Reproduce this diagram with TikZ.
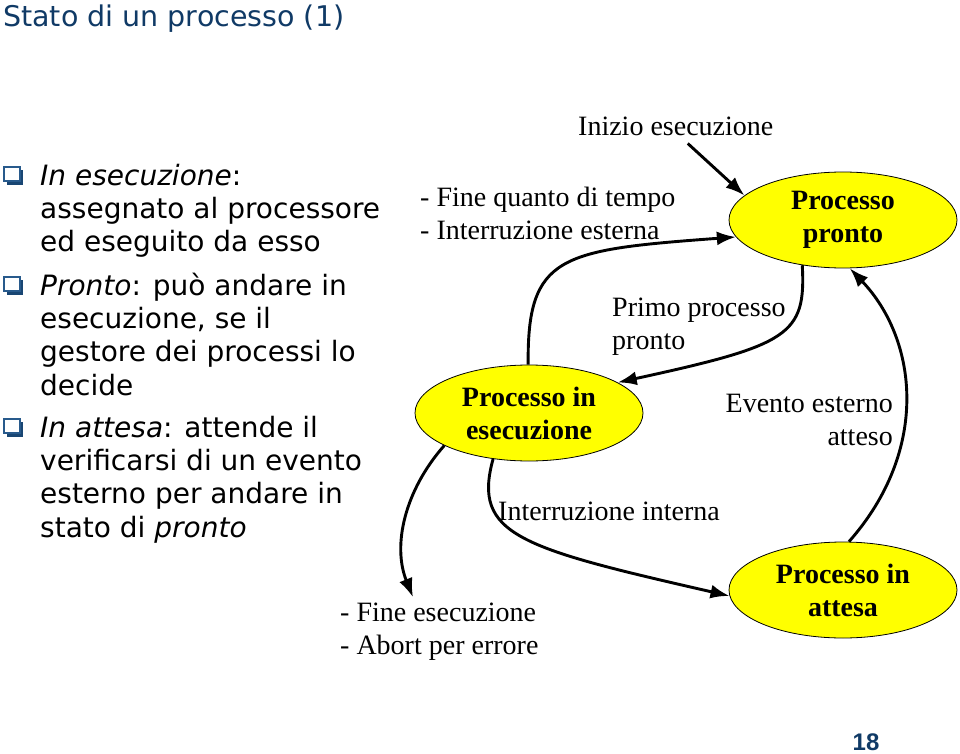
\documentclass[tikz,border=0pt]{standalone}
\usepackage{fontspec}
\setmainfont{Liberation Serif}
\newfontfamily\vfont{DejaVu Sans}[ItalicFont={DejaVu Sans Oblique},BoldFont={DejaVu Sans Bold}]
\newfontfamily\afont{Liberation Sans}
\usetikzlibrary{shapes.geometric,arrows.meta,calc}
\definecolor{titleblue}{RGB}{16,58,102}
\definecolor{boxblue}{RGB}{40,90,140}
\definecolor{shadowblue}{RGB}{25,70,115}
\definecolor{stateyellow}{RGB}{255,255,0}
\newcommand\qbox[1]{%
  \fill[shadowblue] (7,#1-15) rectangle (23,#1);
  \draw[boxblue,fill=white,line width=1.2pt] (4,#1-18) rectangle (20,#1-4);}
\begin{document}
\begin{tikzpicture}[x=1pt,y=-1pt,
  stnode/.style={ellipse,draw=black,line width=0.8pt,fill=stateyellow,
    minimum width=228pt,minimum height=96pt,inner sep=0pt,align=center,
    font=\fontsize{28}{33}\selectfont\bfseries},
  lbl/.style={inner sep=0pt,font=\fontsize{28}{33}\selectfont},
  bul/.style={inner sep=0pt,anchor=base west,align=left,
    font=\vfont\fontsize{28}{33.4}\selectfont},
  conn/.style={line width=2.9pt,-{Latex[length=19pt,width=14pt]}},
]
\useasboundingbox (0,0) rectangle (960,754);

% title
\node[anchor=base west,inner sep=0pt,font=\vfont\fontsize{28.5}{34}\selectfont,
  text=titleblue] (title) at (3,27) {Stato di un processo (1)};

% bullets (anchor = baseline of last line)
\qbox{185}
\node[bul] (b1) at (40,251.8) {\textit{In esecuzione}:\\assegnato al processore\\ed eseguito da esso};
\qbox{295}
\node[bul] (b2) at (40,395.2) {\textit{Pronto}: può andare in\\esecuzione, se il\\gestore dei processi lo\\decide};
\qbox{437}
\node[bul] (b3) at (40,537.2) {\textit{In attesa}: attende il\\verificarsi di un evento\\esterno per andare in\\stato di \textit{pronto}};

% states
\node[stnode] (pronto) at (843,220) {Processo\\pronto};
\node[stnode] (esec) at (529,413) {Processo in\\esecuzione};
\node[stnode] (attesa) at (843,590) {Processo in\\attesa};

% labels (multi-line: anchor = baseline of last line)
\node[lbl,anchor=base west] (inizio) at (578,136) {Inizio esecuzione};
\node[lbl,anchor=base west,align=left] (fq) at (420,239) {- Fine quanto di tempo\\- Interruzione esterna};
\node[lbl,anchor=base west,align=left] (pp) at (612,349) {Primo processo\\pronto};
\node[lbl,anchor=base east,align=right] (ev) at (893,445) {Evento esterno\\atteso};
\node[lbl,anchor=base west] (ii) at (498,520) {Interruzione interna};
\node[lbl,anchor=base west,align=left] (fe) at (340,654) {- Fine esecuzione\\- Abort per errore};

% page number
\node[anchor=base,inner sep=0pt,font=\afont\bfseries\fontsize{24}{28}\selectfont,
  text=titleblue] (pg) at (866,750) {18};

% connectors
\draw[conn] ($(inizio.south)+(12,7)$) -- (pronto.166);
\draw[conn] (esec.91) .. controls (527,255) and (560,250) .. (pronto.189);
\draw[conn] (pronto.228) .. controls (806,335) and (790,345) .. (esec.19);
\draw[conn] (esec.201) .. controls (405,490) and (392,545) .. ($(fe.north west)+(73,-5)$);
\draw[conn] (esec.232) .. controls (472,535) and (520,548) .. (attesa.183);
\draw[conn] (attesa.83) .. controls (930,450) and (918,340) .. (pronto.278);
\end{tikzpicture}
\end{document}
